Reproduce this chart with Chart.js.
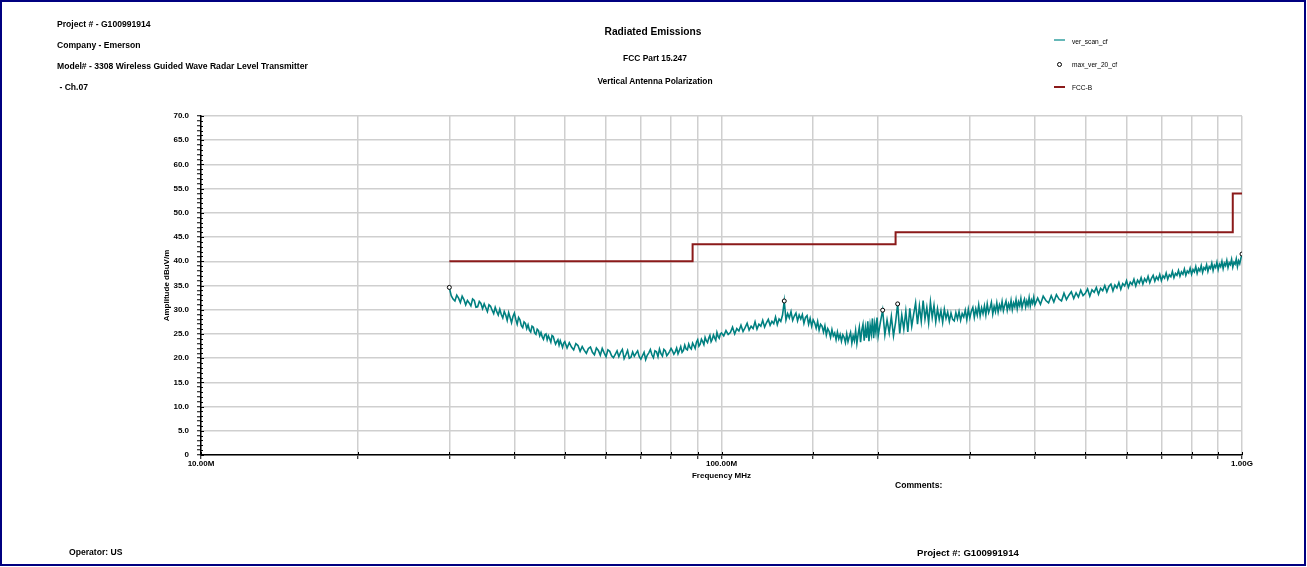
<!DOCTYPE html>
<html>
<head>
<meta charset="utf-8">
<script src="https://cdn.jsdelivr.net/npm/chart.js@4.4.1/dist/chart.umd.min.js"></script>
<style>
  body { margin: 0; background: #fff; font-family: "Liberation Sans", Arial, sans-serif; }
  #page { position: relative; width: 1307px; height: 567px; overflow: hidden; }
  #frame { position: absolute; left: 0; top: 0; width: 1302px; height: 562px; border: 2px solid #000080; }
  #chart { position: absolute; left: 0; top: 0; }
  .t { position: absolute; font-weight: bold; font-size: 8.6px; white-space: nowrap; color: #000; transform: translateY(-50%); }
  .c { transform: translate(-50%, -50%); }
  .lg { position: absolute; font-size: 6.6px; white-space: nowrap; color: #000; transform: translateY(-50%); }
  .sw { position: absolute; width: 11px; height: 2px; }
</style>
</head>
<body>
<div id="page">
  <canvas id="chart" width="1307" height="567"></canvas>
  <div id="frame"></div>

  <div class="t" style="left:57px;top:24px;">Project # - G100991914</div>
  <div class="t" style="left:57px;top:45px;">Company - Emerson</div>
  <div class="t" style="left:57px;top:66px;">Model# - 3308 Wireless Guided Wave Radar Level Transmitter</div>
  <div class="t" style="left:57px;top:87px;">&nbsp;- Ch.07</div>

  <div class="t c" style="left:653px;top:31px;font-size:10.2px;">Radiated Emissions</div>
  <div class="t c" style="left:655px;top:58px;font-size:8.4px;">FCC Part 15.247</div>
  <div class="t c" style="left:655px;top:81px;font-size:8.4px;">Vertical Antenna Polarization</div>

  <div class="sw" style="left:1054px;top:39px;background:#66b8b8;"></div>
  <div class="lg" style="left:1072px;top:41px;">ver_scan_cf</div>
  <div style="position:absolute;left:1057px;top:62px;width:3px;height:3px;border:1px solid #000;border-radius:50%;background:#fff;"></div>
  <div class="lg" style="left:1072px;top:64px;">max_ver_20_cf</div>
  <div class="sw" style="left:1054px;top:86px;background:#8b1a1a;"></div>
  <div class="lg" style="left:1072px;top:87px;">FCC-B</div>

  <div class="t" style="left:895px;top:485px;">Comments:</div>
  <div class="t" style="left:69px;top:552px;">Operator: US</div>
  <div class="t" style="left:917px;top:552px;font-size:9.6px;">Project #: G100991914</div>
</div>

<script>
/* scan trace ver_scan_cf, MHz / dBuV/m */
const scanFreq = [
  30,30.25,30.5,30.75,31,31.25,31.5,31.75,32,32.25,32.5,32.75,33,33.25,33.5,33.75,34,34.25,34.5,34.75,
  35,35.25,35.5,35.75,36,36.25,36.5,36.75,37,37.25,37.5,37.75,38,38.25,38.5,38.75,39,39.25,39.5,39.75,
  40,40.25,40.5,40.75,41,41.25,41.5,41.75,42,42.25,42.5,42.75,43,43.25,43.5,43.75,44,44.25,44.5,44.75,
  45,45.25,45.5,45.75,46,46.25,46.5,46.75,47,47.25,47.5,47.75,48,48.25,48.5,48.75,49,49.25,49.5,49.75,50,
  50.5,51,51.5,52,52.5,53,53.5,54,54.5,55,55.5,56,56.5,57,57.5,58,58.5,59,59.5,60,
  60.5,61,61.5,62,62.5,63,63.5,64,64.5,65,65.5,66,66.5,67,67.5,68,68.5,69,69.5,70,
  70.5,71,71.5,72,72.5,73,73.5,74,74.5,75,75.5,76,76.5,77,77.5,78,78.5,79,79.5,80,
  80.5,81,81.5,82,82.5,83,83.5,84,84.5,85,85.5,86,86.5,87,87.5,88,88.5,89,89.5,90,
  90.5,91,91.5,92,92.5,93,93.5,94,94.5,95,95.5,96,96.5,97,97.5,98,98.5,99,99.5,100,
  101,102,103,104,105,106,107,108,109,110,111,112,113,114,115,116,117,118,119,120,
  121,122,123,124,125,126,127,128,129,130,131,132,133,134,135,136,137,138,139,140,
  141,142,143,144,145,146,147,148,149,150,151,152,153,154,155,156,157,158,159,160,
  161,162,163,164,165,166,167,168,169,170,171,172,173,174,175,176,177,178,179,180,
  181,182,183,184,185,186,187,188,189,190,191,192,193,194,195,196,197,198,199,200,
  202,204,206,208,210,212,214,216,218,220,222,224,226,228,230,232,234,236,238,240,
  242,244,246,248,250,252,254,256,258,260,262,264,266,268,270,272,274,276,278,280,
  282,284,286,288,290,292,294,296,298,300,302,304,306,308,310,312,314,316,318,320,
  322,324,326,328,330,332,334,336,338,340,342,344,346,348,350,352,354,356,358,360,
  362,364,366,368,370,372,374,376,378,380,382,384,386,388,390,392,394,396,398,400,
  405,410,415,420,425,430,435,440,445,450,455,460,465,470,475,480,485,490,495,500,
  505,510,515,520,525,530,535,540,545,550,555,560,565,570,575,580,585,590,595,600,
  605,610,615,620,625,630,635,640,645,650,655,660,665,670,675,680,685,690,695,700,
  705,710,715,720,725,730,735,740,745,750,755,760,765,770,775,780,785,790,795,800,
  805,810,815,820,825,830,835,840,845,850,855,860,865,870,875,880,885,890,895,900,
  905,910,915,920,925,930,935,940,945,950,955,960,965,970,975,980,985,990,995,1000
];
const scanAmp = [
  34.5,32.9,32.2,31.8,33.0,32.4,31.5,32.8,32.1,31.0,31.9,31.4,30.8,32.2,31.9,30.5,30.6,31.7,31.3,30.2,
  31.2,30.4,29.6,31.0,30.7,29.9,29.2,30.5,29.6,28.9,30.1,29.0,28.3,29.6,28.9,27.8,29.4,28.4,27.3,28.6,
  29.3,28.0,27.0,28.4,27.9,26.7,26.3,27.5,27.2,26.1,26.9,25.8,25.4,26.6,26.4,25.2,24.9,26.0,25.7,24.6,
  25.3,24.4,23.9,24.8,25.0,23.8,24.6,24.0,23.3,24.7,24.5,23.6,22.9,23.4,23.8,22.7,23.6,22.9,22.2,23.1,23.4,
  22.1,23.2,22.3,21.7,23.0,22.6,21.4,22.4,21.6,21.0,22.0,22.3,21.2,20.7,22.1,21.6,20.6,22.0,21.1,20.3,
  21.7,21.4,20.5,20.1,20.8,21.5,20.3,21.2,21.8,19.9,20.7,21.6,20.0,20.2,21.3,20.4,21.0,21.5,20.3,19.8,
  20.5,21.2,19.7,20.6,21.1,21.8,20.7,20.1,21.5,21.3,20.3,21.9,20.9,20.4,21.8,21.5,20.5,20.9,21.4,22.0,
  21.5,20.8,21.3,22.1,20.9,21.6,22.4,21.2,21.6,22.7,21.9,21.7,22.9,22.2,21.9,23.1,22.6,22.0,23.3,23.8,
  22.5,22.9,23.9,23.4,22.8,24.3,23.6,23.2,24.1,24.7,23.4,23.9,24.8,24.2,23.7,25.3,24.5,24.1,25.0,25.2,
  24.6,25.7,24.9,25.3,26.4,25.0,26.1,25.6,26.8,25.5,26.3,27.2,25.8,26.6,26.1,27.5,26.0,27.0,26.6,27.8,
  26.4,27.3,28.0,26.8,27.6,27.1,28.5,26.9,28.1,27.6,28.9,31.8,27.9,29.2,28.3,29.6,27.8,28.7,29.3,27.7,
  28.9,28.1,29.0,27.2,28.4,28.8,27.0,28.2,26.6,27.9,27.3,26.2,27.6,25.8,27.0,26.6,25.4,26.7,24.8,26.1,
  25.5,24.3,25.9,24.6,25.2,23.8,25.4,24.0,24.9,23.5,24.8,24.3,23.2,25.0,23.4,24.4,25.3,23.1,24.6,23.6,
  25.7,23.0,24.9,26.4,23.3,25.8,27.0,23.6,26.3,24.2,27.6,23.5,26.8,25.0,28.2,24.1,27.1,25.3,28.4,24.6,
  27.5,29.9,24.8,27.9,25.2,28.6,24.6,27.4,31.2,25.1,28.9,26.0,29.7,25.4,30.3,26.6,29.1,31.4,27.0,30.8,
  27.6,31.9,28.1,30.5,27.3,31.6,28.4,30.9,27.5,30.2,28.0,29.8,27.4,30.1,28.2,29.5,27.6,29.3,28.0,27.7,
  29.4,28.1,29.6,27.8,29.2,28.5,29.9,27.9,30.1,28.3,29.7,30.5,28.4,30.2,28.9,31.0,28.7,30.4,29.2,30.8,
  28.9,31.2,29.4,30.3,31.5,29.1,30.7,29.6,31.4,29.5,31.0,30.1,31.7,29.8,30.9,31.8,29.9,31.2,30.3,31.9,
  30.0,31.4,30.6,32.1,30.2,31.6,30.8,32.3,30.4,31.5,32.2,30.6,31.8,30.9,32.5,30.8,32.0,31.3,32.6,31.0,
  32.4,31.1,32.8,31.9,31.4,32.9,31.6,33.1,32.2,31.8,33.4,32.1,33.0,33.7,32.3,33.5,32.6,34.0,32.9,33.4,
  34.3,32.8,34.1,33.6,34.6,33.2,34.4,33.9,35.0,33.7,34.8,35.3,33.9,35.1,34.5,35.6,34.2,35.4,34.9,36.0,
  34.6,35.7,35.2,36.3,34.9,36.1,35.5,36.6,35.3,36.4,35.8,36.9,35.6,36.5,37.1,35.9,36.8,36.2,37.3,36.0,
  37.0,36.5,37.6,36.3,37.2,36.8,37.9,36.6,37.5,37.1,38.1,36.9,37.8,37.3,38.4,37.1,38.0,37.6,38.6,37.3,
  38.3,37.8,38.9,37.5,38.5,38.0,39.1,37.7,38.7,38.3,39.3,37.9,38.9,38.5,39.6,38.1,39.2,38.7,39.8,38.3,
  39.4,38.9,40.0,38.5,39.6,39.1,40.2,38.7,39.7,39.3,40.4,38.8,39.8,39.4,40.5,38.9,40.1,39.5,40.6,41.5
];

/* peaks, max_ver_20_cf */
const peakFreq = [30, 132, 204, 218, 1000];
const peakAmp = [34.6, 31.8, 29.9, 31.2, 41.5];

/* FCC class B limit */
const limitFreq = [30, 88, 88, 216, 216, 960, 960, 1000];
const limitAmp = [40, 40, 43.5, 43.5, 46, 46, 54, 54];

const FONT = "'Liberation Sans', Arial, sans-serif";

function pairs(xs, ys) {
  return xs.map((x, i) => ({ x: x, y: ys[i] }));
}

function isDecade(v) {
  const l = Math.log10(v);
  return Math.abs(l - Math.round(l)) < 1e-9;
}

// tick marks that cross into the plot, like the original instrument plot
const crossTicks = {
  id: 'crossTicks',
  afterDraw(chart) {
    const c = chart.ctx, xs = chart.scales.x, ys = chart.scales.y;
    const ax = chart.chartArea.left, ay = chart.chartArea.bottom;
    c.save();
    c.strokeStyle = '#000';
    c.lineWidth = 1;
    c.beginPath();
    ys.ticks.forEach(t => {
      const y = Math.round(ys.getPixelForValue(t.value)) + 0.5;
      const len = t.value % 5 === 0 ? 3 : 2;
      c.moveTo(ax, y);
      c.lineTo(ax + len, y);
    });
    xs.ticks.forEach(t => {
      const x = Math.round(xs.getPixelForValue(t.value)) + 0.5;
      c.moveTo(x, ay);
      c.lineTo(x, ay - 3);
    });
    c.stroke();
    c.restore();
  }
};

const ctx = document.getElementById('chart');
new Chart(ctx, {
  type: 'line',
  data: {
    datasets: [
      {
        label: 'max_ver_20_cf',
        data: pairs(peakFreq, peakAmp),
        showLine: false,
        pointRadius: 2,
        pointBorderWidth: 1,
        pointBorderColor: '#000',
        pointBackgroundColor: '#fff',
        order: 0
      },
      {
        label: 'FCC-B',
        data: pairs(limitFreq, limitAmp),
        borderColor: '#8b1a1a',
        borderWidth: 2,
        pointRadius: 0,
        order: 1
      },
      {
        label: 'ver_scan_cf',
        data: pairs(scanFreq, scanAmp),
        borderColor: '#008080',
        borderWidth: 1.6,
        pointRadius: 0,
        order: 2
      }
    ]
  },
  options: {
    responsive: false,
    animation: false,
    layout: { padding: { left: 160, right: 65, top: 116, bottom: 86 } },
    plugins: { legend: { display: false }, tooltip: { enabled: false } },
    scales: {
      x: {
        type: 'logarithmic',
        min: 10,
        max: 1000,
        afterFit: (s) => { s.height = 26; },
        border: { color: '#000', width: 1.5 },
        grid: { color: '#cfcfcf', lineWidth: 1.5, tickColor: '#000', tickWidth: 1, tickLength: 4 },
        ticks: {
          autoSkip: false,
          maxRotation: 0,
          padding: 0,
          color: '#000',
          font: { family: FONT, size: 8, weight: 'bold' },
          callback: (v) => {
            if (!isDecade(v)) return '';
            if (v >= 1000) return (v / 1000).toFixed(2) + 'G';
            return v.toFixed(2) + 'M';
          }
        },
        title: {
          display: true,
          text: 'Frequency MHz',
          color: '#000',
          font: { family: FONT, size: 8, weight: 'bold' },
          padding: { top: 2, bottom: 0 }
        }
      },
      y: {
        min: 0,
        max: 70,
        afterFit: (s) => { s.width = 41; },
        border: { color: '#000', width: 1.5 },
        grid: {
          color: (c) => (c.tick && c.tick.value % 5 === 0) ? '#cfcfcf' : 'rgba(0,0,0,0)',
          lineWidth: 1.5,
          tickColor: '#000',
          tickWidth: 1,
          tickLength: 4
        },
        ticks: {
          stepSize: 1,
          autoSkip: false,
          padding: 8,
          color: '#000',
          font: { family: FONT, size: 8, weight: 'bold' },
          callback: (v) => (v % 5 !== 0) ? '' : (v === 0 ? '0' : v.toFixed(1))
        },
        title: {
          display: true,
          text: 'Amplitude dBuV/m',
          color: '#000',
          font: { family: FONT, size: 8, weight: 'bold' },
          padding: { top: 2, bottom: 0 }
        }
      }
    }
  },
  plugins: [crossTicks]
});
</script>
</body>
</html>
